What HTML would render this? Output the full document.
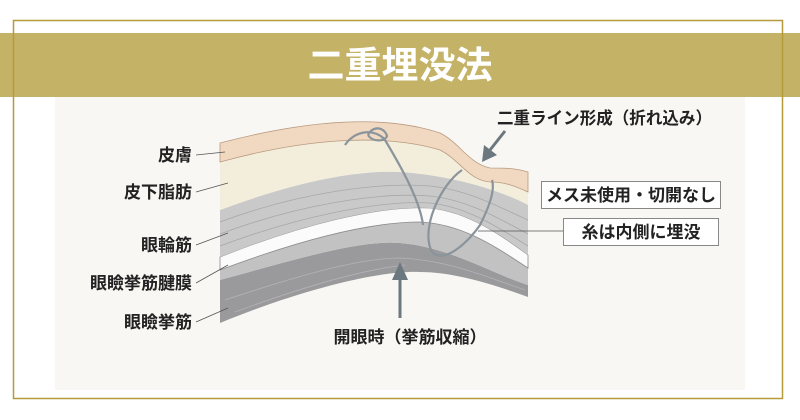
<!DOCTYPE html>
<html><head><meta charset="utf-8"><style>
body{margin:0;width:800px;height:420px;background:#fff;overflow:hidden;font-family:"Liberation Sans","Noto Sans CJK JP",sans-serif}
</style></head><body>
<svg width="800" height="420" xmlns="http://www.w3.org/2000/svg" style="position:absolute;left:0;top:0">
<rect x="55" y="97" width="690" height="293" fill="#f8f7f3"/>
<rect x="0" y="33" width="800" height="64" fill="#c4b266"/>
<rect x="13.5" y="20.5" width="769" height="378" fill="none" stroke="#b49a3a" stroke-width="1.5"/>
<text x="400" y="78" text-anchor="middle" font-size="37" font-weight="bold" fill="#fff" font-family="Noto Sans CJK JP, sans-serif">二重埋没法</text>
<!-- levator (dark) -->
<path d="M220 280 C300 258 360 240 400 243 C450 247 495 275 528 285 L528 297 C495 285 455 272 420 272 C380 270 300 290 220 323 Z" fill="#9a9a9c"/>
<g stroke="#b4b4b6" stroke-width="0.8" fill="none">
<path d="M225 300 C300 275 360 258 400 258 C450 260 495 280 525 290"/>
<path d="M235 312 C300 288 360 270 405 265"/>
</g>
<!-- lighter layer between white and levator -->
<path d="M220 270 C300 240 370 222 420 222 C465 224 500 250 528 268 L528 285 C495 275 450 247 400 243 C360 240 300 258 220 280 Z" fill="#c2c2c3"/>
<!-- white aponeurosis -->
<path d="M220 257 C300 225 380 205 430 208 C470 212 505 238 528 255 L528 268 C500 250 465 224 420 222 C370 222 300 240 220 270 Z" fill="#fbfbfb" stroke="#8c8c8e" stroke-width="0.8"/>
<!-- orbicularis -->
<path d="M220 210 C300 180 360 170 400 172 C450 175 500 190 528 205 L528 255 C505 238 470 212 430 208 C380 205 300 225 220 257 Z" fill="#c9c9c9"/>
<g stroke="#a8a8a8" stroke-width="0.8" fill="none">
<path d="M220 222 C300 192 380 182 430 186 C470 190 505 210 528 220"/>
<path d="M220 234 C300 204 380 192 430 196 C470 200 505 222 528 234"/>
<path d="M220 246 C300 216 380 200 430 203 C470 207 505 232 528 246"/>
</g>
<!-- fat -->
<path d="M220 162 C300 140 380 132 440 150 C460 160 470 180 490 182 C505 182 515 186 528 192 L528 205 C500 190 450 175 400 172 C360 170 300 180 220 210 Z" fill="#f3eedb"/>
<!-- skin -->
<path d="M220 143 C300 122 380 113 440 133 C460 143 468 163 490 168 C505 168 515 168 528 172 L528 192 C515 186 505 182 490 182 C468 180 460 160 440 150 C380 132 300 140 220 162 Z" fill="#f1d8c0" stroke="#b89a80" stroke-width="0.8"/>
<!-- suture -->
<g stroke="#8a949c" stroke-width="2.2" fill="none">
<path d="M345 145 C355 130 375 128 385 140 C400 165 420 200 423 225"/>
<path d="M368 135 C372 126 384 126 387 136 C385 142 372 142 368 135"/>
<path d="M462 170 C440 185 420 230 432 252 C445 265 470 240 480 225 C490 205 495 190 492 180"/>
</g>
<!-- arrows -->
<g stroke="#6c7880" stroke-width="3" fill="#6c7880">
<line x1="505" y1="131" x2="490" y2="150"/>
<line x1="400" y1="318" x2="400" y2="278"/>
</g>
<polygon points="482,162 484,145 497,155" fill="#6c7880"/>
<polygon points="400,262 392,280 408,280" fill="#6c7880"/>
<!-- leaders -->
<g stroke="#555" stroke-width="0.8">
<line x1="196" y1="155" x2="225" y2="152"/>
<line x1="196" y1="192" x2="228" y2="183"/>
<line x1="196" y1="245" x2="228" y2="233"/>
<line x1="196" y1="283" x2="228" y2="265"/>
<line x1="196" y1="322" x2="228" y2="308"/>
<line x1="478" y1="231" x2="563" y2="231"/>
</g>
<g font-size="17" font-weight="bold" fill="#222" text-anchor="end">
<text x="192" y="161">皮膚</text>
<text x="192" y="198">皮下脂肪</text>
<text x="192" y="251">眼輪筋</text>
<text x="192" y="289">眼瞼挙筋腱膜</text>
<text x="192" y="328">眼瞼挙筋</text>
</g>
<text x="497" y="124" font-size="17" font-weight="bold" fill="#222" textLength="215" lengthAdjust="spacingAndGlyphs">二重ライン形成（折れ込み）</text>
<text x="410" y="343" font-size="17" font-weight="bold" fill="#222" text-anchor="middle">開眼時（挙筋収縮）</text>
<rect x="541.5" y="181.5" width="179" height="27" fill="#fff" stroke="#888"/>
<text x="631" y="201" font-size="17" font-weight="bold" fill="#222" text-anchor="middle" textLength="170" lengthAdjust="spacingAndGlyphs">メス未使用・切開なし</text>
<rect x="563.5" y="218.5" width="155" height="27" fill="#fff" stroke="#888"/>
<text x="641" y="238" font-size="17" font-weight="bold" fill="#222" text-anchor="middle">糸は内側に埋没</text>
</svg>
</body></html>
